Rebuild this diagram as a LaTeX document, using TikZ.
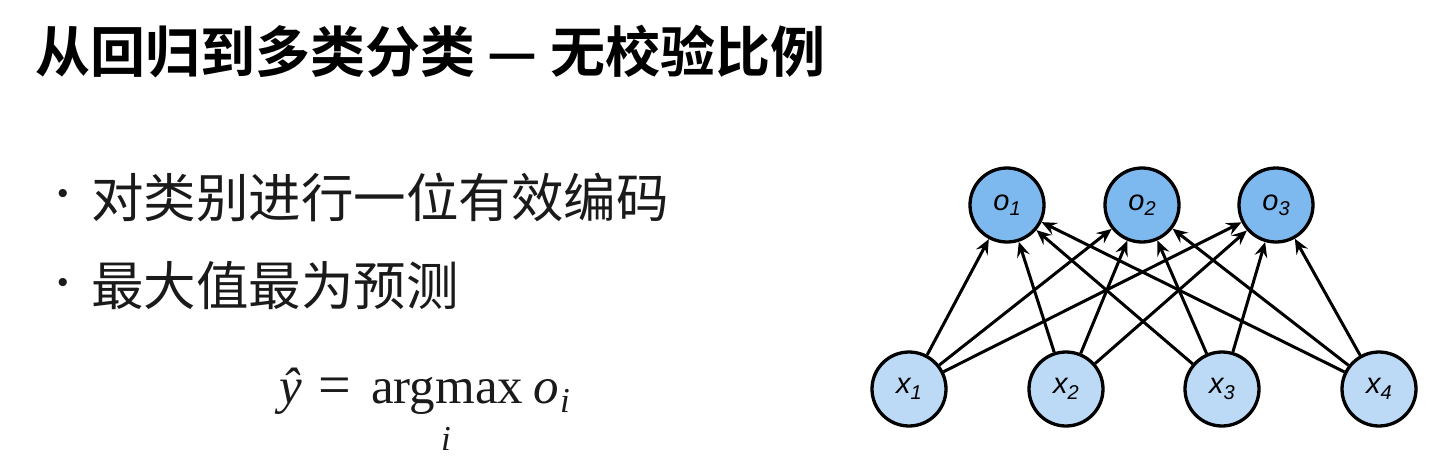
\documentclass[tikz,border=0pt]{standalone}
\usepackage{fontspec}
\setmainfont{Liberation Serif}
\newfontfamily\cjkreg{Noto Sans CJK SC}
\newfontfamily\cjkbold{Noto Sans CJK SC Bold}
\newfontfamily\labfont{Liberation Sans}
\usetikzlibrary{arrows.meta}
\definecolor{ofill}{HTML}{7DB9EE}
\definecolor{xfill}{HTML}{BCD9F6}
\definecolor{txt}{HTML}{1A1A1A}
\tikzset{
  onode/.style={circle, draw=black, line width=3.3pt, fill=ofill, minimum size=74pt, inner sep=0pt, font=\labfont\itshape\fontsize{29}{29}\selectfont},
  xnode/.style={circle, draw=black, line width=3.3pt, fill=xfill, minimum size=74pt, inner sep=0pt, font=\labfont\itshape\fontsize{29}{29}\selectfont},
  edge/.style={line width=3pt, -{Stealth[length=15pt, width=13pt, inset=5.5pt]}},
  bulletdot/.style={anchor=center, text=txt, font=\labfont\fontsize{30}{30}\selectfont},
  bullettext/.style={anchor=west, text=txt, inner sep=0pt, font=\cjkreg\fontsize{52.5}{52.5}\selectfont},
  formula/.style={anchor=base west, inner sep=0pt, text=txt, font=\fontsize{51}{51}\selectfont},
  formsub/.style={inner sep=0pt, text=txt, font=\fontsize{35}{35}\selectfont}
}
\newcommand{\sublab}[2]{#1\raisebox{-0.35ex}{\fontsize{20}{20}\selectfont #2}}
\begin{document}
\begin{tikzpicture}[x=1pt,y=-1pt]
\useasboundingbox[fill=white] (0,0) rectangle (1441,467);
% title
\node[anchor=west, inner sep=0pt, text=black, font=\cjkbold\fontsize{55}{55}\selectfont] (title) at (35,52) {从回归到多类分类 — 无校验比例};
% bullets
\node[bulletdot] (b1) at (63,196) {•};
\node[bullettext] (t1) at (91,197) {对类别进行一位有效编码};
\node[bulletdot] (b2) at (63,285) {•};
\node[bullettext] (t2) at (91,286) {最大值最为预测};
% formula
\node[formula] (yhat) at (279,403) {\textit{ŷ}};
\node[formula, font=\fontsize{58}{58}\selectfont] (eq) at (318,404) {=};
\node[formula] (argmax) at (371,403) {argmax};
\node[formula] (oi) at (533,403) {\textit{o}};
\node[formsub, anchor=base west] (subi) at (560,412) {\textit{i}};
\node[formsub, anchor=base] (undi) at (446,450) {\textit{i}};
% network
\node[onode] (o1) at (1007,205) {\sublab{o}{1}};
\node[onode] (o2) at (1142,205) {\sublab{o}{2}};
\node[onode] (o3) at (1276,205) {\sublab{o}{3}};
\node[xnode] (x1) at (909,389) {\sublab{x}{1}};
\node[xnode] (x2) at (1066,389) {\sublab{x}{2}};
\node[xnode] (x3) at (1222,389) {\sublab{x}{3}};
\node[xnode] (x4) at (1379,389) {\sublab{x}{4}};
\foreach \i in {1,2,3,4}{
  \foreach \j in {1,2,3}{
    \draw[edge] (x\i) -- (o\j);
  }
}
\end{tikzpicture}
\end{document}
